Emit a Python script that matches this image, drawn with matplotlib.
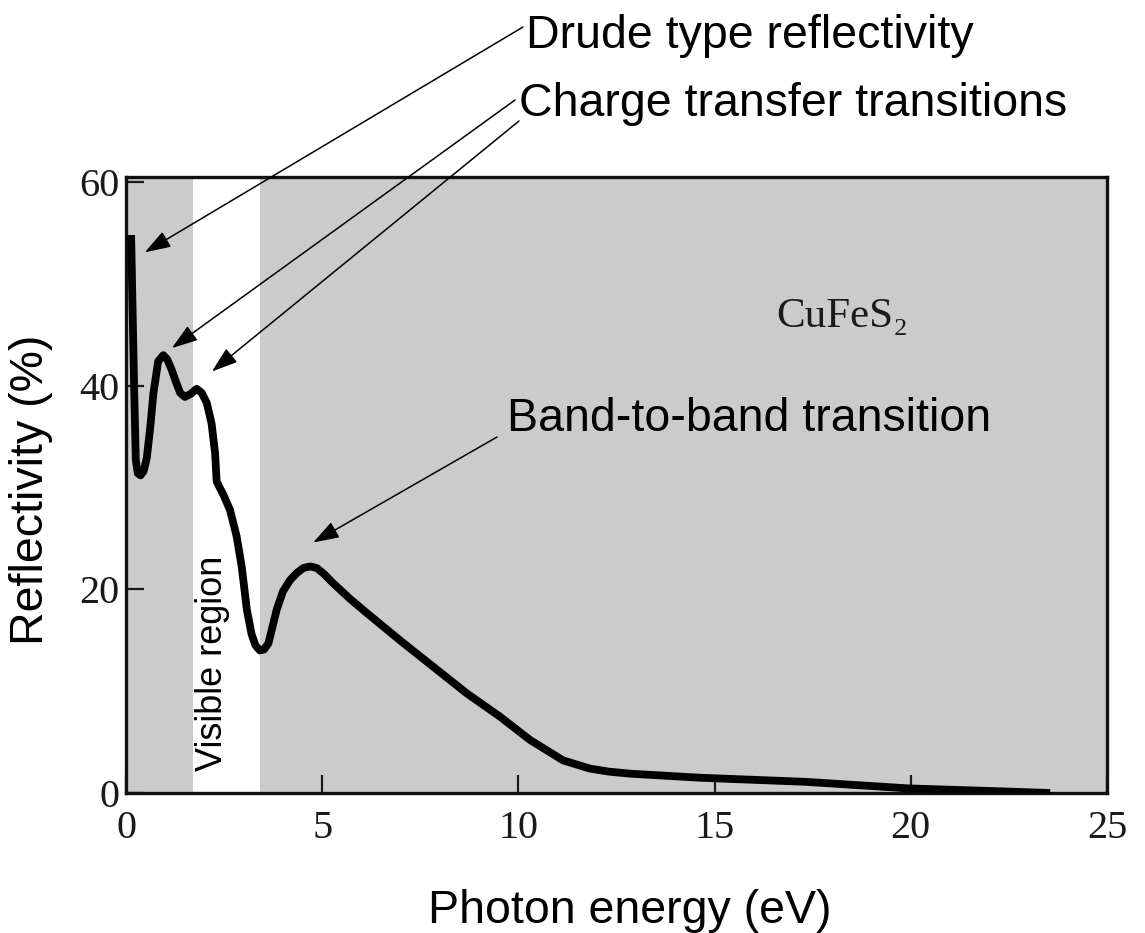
import matplotlib
matplotlib.use('Agg')
import matplotlib.pyplot as plt

# ---- data ----
energy = [0.13, 0.21, 0.25, 0.30, 0.37, 0.45, 0.53, 0.62, 0.70, 0.82, 0.95, 1.05, 1.16, 1.28,
          1.38, 1.50, 1.65, 1.80, 1.93, 2.06, 2.18, 2.27, 2.31, 2.40, 2.48, 2.65, 2.82,
          2.95, 3.08, 3.20, 3.30, 3.41, 3.52, 3.63, 3.84, 4.00, 4.18, 4.35, 4.52, 4.70,
          4.86, 5.05, 5.28, 5.70, 6.13, 6.98, 7.83, 8.68, 9.53, 10.30, 11.14, 11.82,
          12.30, 12.84, 14.63, 17.30, 19.95, 22.00, 23.55]
reflectivity = [54.8, 39.3, 32.7, 31.4, 31.2, 31.6, 32.9, 36.0, 39.3, 42.4, 43.0, 42.6, 41.6, 40.3,
                39.3, 38.9, 39.2, 39.7, 39.3, 38.3, 36.3, 33.4, 30.6, 29.9, 29.3, 27.8, 25.2,
                22.2, 18.0, 15.6, 14.5, 14.0, 14.1, 14.7, 18.0, 19.8, 20.9, 21.6, 22.1, 22.25,
                22.1, 21.5, 20.6, 19.1, 17.7, 15.0, 12.4, 9.8, 7.5, 5.2, 3.2, 2.4,
                2.1, 1.9, 1.5, 1.1, 0.45, 0.2, 0.0]
x_ticks = [0, 5, 10, 15, 20, 25]
y_ticks = [0, 20, 40, 60]
visible_range = [1.71, 3.41]

W, H = 1145, 933
fig = plt.figure(figsize=(W / 100, H / 100), dpi=100)
fig.patch.set_facecolor('white')

L, R, T, B = 126, 1107, 177, 793
ax = fig.add_axes([L / W, 1 - B / H, (R - L) / W, (B - T) / H])
ax.set_xlim(0, 25)
ax.set_ylim(0, 60.5)
ax.set_facecolor('#cbcbcb')
ax.axvspan(visible_range[0], visible_range[1], color='white', lw=0, zorder=0.5)

ax.plot(energy, reflectivity, color='black', lw=5.6, solid_joinstyle='round',
        solid_capstyle='butt', zorder=3)

ax.set_xticks(x_ticks)
ax.set_yticks(y_ticks)
ax.tick_params(direction='in', length=13, width=1.6, colors='#1a1a1a', labelsize=29)
ax.tick_params(axis='x', pad=12)
ax.tick_params(axis='y', pad=5)
for lab in ax.get_xticklabels() + ax.get_yticklabels():
    lab.set_fontfamily('Liberation Serif')
for s in ax.spines.values():
    s.set_linewidth(2.4)
    s.set_color('#111111')

sans = 'Liberation Sans'
FS = 33.5

def fx(px):
    return px / W

def fy(py):
    return 1 - py / H

# annotation texts
fig.text(fx(526), fy(48), 'Drude type reflectivity', fontsize=FS, family=sans, va='baseline', ha='left')
fig.text(fx(519), fy(116), 'Charge transfer transitions', fontsize=FS, family=sans, va='baseline', ha='left')
fig.text(fx(507), fy(431), 'Band-to-band transition', fontsize=FS, family=sans, va='baseline', ha='left')
fig.text(fx(213), fy(663), 'Visible region', fontsize=26, family=sans, rotation=90,
         va='center', ha='center')
fig.text(fx(776), fy(327), 'CuFeS\u2082', fontsize=31, family=['Liberation Serif', 'DejaVu Serif'],
         va='baseline', ha='left', color='#1a1a1a')

# axis labels
fig.text(fx(428), fy(923), 'Photon energy (eV)', fontsize=FS, family=sans, va='baseline', ha='left')
fig.text(fx(31), fy(490), 'Reflectivity (%)', fontsize=FS, family=sans, rotation=90,
         va='center', ha='center')

# arrows: (tail in figure pixels from top-left, tip in data coords)
arrows = [((523, 27), (0.48, 53.1)),
          ((515, 100), (1.17, 43.7)),
          ((519, 121), (2.19, 41.4)),
          ((497, 437), (4.77, 24.6))]
for (tx, ty), tip in arrows:
    ax.annotate('', xy=tip, xycoords='data', xytext=(tx, H - ty), textcoords='figure pixels',
                arrowprops=dict(arrowstyle='-|>,head_length=0.8,head_width=0.27',
                                mutation_scale=20, lw=1.1, color='black',
                                shrinkA=0, shrinkB=0),
                annotation_clip=False, zorder=5)

fig.savefig('out.png', dpi=100)
